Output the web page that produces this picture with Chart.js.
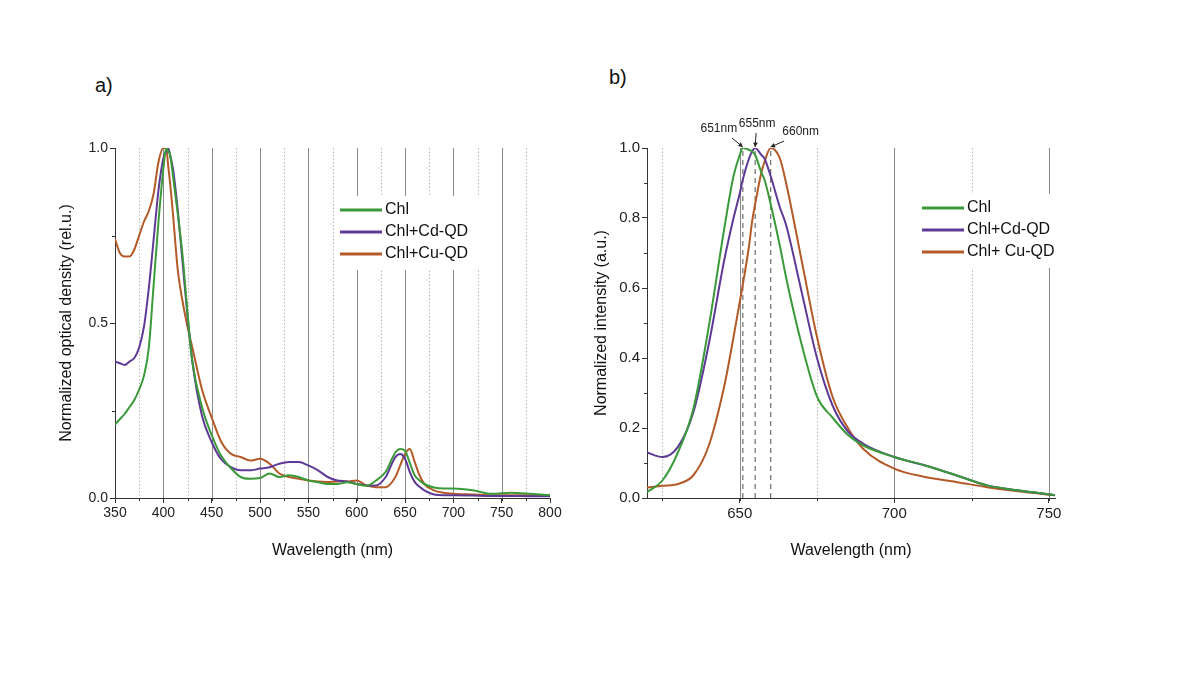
<!DOCTYPE html>
<html>
<head>
<meta charset="utf-8">
<script src="https://cdn.jsdelivr.net/npm/chart.js@4"></script>
<style>
body{margin:0;width:1200px;height:675px;background:#fff;position:relative;font-family:"Liberation Sans",Arial,sans-serif;overflow:hidden}
canvas{position:absolute}
.lbl{position:absolute;font-size:20px;color:#111}
</style>
</head>
<body>
<div class="lbl" style="left:95px;top:74px">a)</div>
<div class="lbl" style="left:609px;top:66px">b)</div>
<canvas id="ca" style="left:55px;top:100px" width="515" height="460"></canvas>
<canvas id="cb" style="left:590px;top:100px" width="490" height="460"></canvas>
<script>
// panel a: absorption
var absX = [350,355,360,365,370,375,380,385,390,395,400,403,405,407,410,415,420,425,430,440,450,460,470,480,490,500,510,520,530,540,550,560,570,580,590,600,610,620,630,640,645,650,655,660,665,670,680,690,700,720,740,760,780,800];
var absChl = [0.21,0.225,0.24,0.26,0.28,0.31,0.35,0.43,0.61,0.79,0.94,1.0,0.99,0.98,0.92,0.81,0.69,0.53,0.39,0.26,0.18,0.12,0.085,0.06,0.055,0.057,0.07,0.06,0.065,0.06,0.05,0.045,0.04,0.04,0.045,0.04,0.035,0.05,0.075,0.13,0.14,0.135,0.10,0.065,0.05,0.04,0.03,0.027,0.027,0.022,0.012,0.015,0.012,0.008];
var absCd = [0.39,0.385,0.38,0.39,0.40,0.43,0.49,0.6,0.74,0.88,0.97,0.99,1.0,0.98,0.94,0.82,0.67,0.52,0.39,0.235,0.16,0.11,0.088,0.079,0.079,0.084,0.088,0.098,0.103,0.103,0.093,0.079,0.06,0.05,0.047,0.04,0.036,0.036,0.06,0.117,0.126,0.112,0.074,0.046,0.032,0.022,0.01,0.008,0.008,0.007,0.006,0.006,0.005,0.005];
var absCu = [0.74,0.70,0.69,0.69,0.71,0.75,0.79,0.82,0.87,0.96,1.0,1.0,0.95,0.90,0.81,0.65,0.56,0.49,0.43,0.31,0.23,0.16,0.126,0.117,0.107,0.112,0.098,0.07,0.06,0.055,0.05,0.047,0.046,0.047,0.047,0.05,0.036,0.031,0.031,0.06,0.093,0.126,0.14,0.103,0.065,0.04,0.022,0.015,0.012,0.01,0.008,0.008,0.008,0.008];

// panel b: emission
var emX = [620,625,630,635,640,645,648,650,651,653,654,655,657,658,660,663,665,670,675,680,685,690,700,710,720,730,740,752];
var emChl = [0.017,0.05,0.13,0.255,0.49,0.77,0.92,0.98,1.0,0.995,0.99,0.98,0.93,0.91,0.84,0.72,0.63,0.44,0.29,0.23,0.18,0.15,0.117,0.093,0.065,0.036,0.022,0.008];
var emCd = [0.13,0.117,0.146,0.245,0.44,0.68,0.80,0.87,0.91,0.97,0.99,1.0,0.98,0.97,0.92,0.83,0.78,0.59,0.40,0.265,0.19,0.155,0.117,0.093,0.065,0.036,0.022,0.008];
var emCu = [0.03,0.035,0.04,0.065,0.15,0.32,0.46,0.56,0.61,0.72,0.79,0.84,0.93,0.96,1.0,0.97,0.90,0.68,0.46,0.29,0.2,0.14,0.084,0.06,0.046,0.031,0.019,0.008];

var names = ['Chl','Chl+Cd-QD','Chl+Cu-QD'];
var namesB = ['Chl','Chl+Cd-QD','Chl+ Cu-QD'];
var colors = ['#3a9a3a','#5e3a96','#b35a28'];
var peaks = [651,655,660];
var peakLabels = ['651nm','655nm','660nm'];
var ticksA = [350,400,450,500,550,600,650,700,750,800];
var ticksB = [650,700,750];

var FONT = '"Liberation Sans", Arial, sans-serif';

function pts(xs, ys){
	return xs.map(function(x, i){ return {x: x, y: ys[i]}; });
}

function ds(label, data, color){
	return {label: label, data: data, borderColor: color, borderWidth: 2, pointRadius: 0, cubicInterpolationMode: 'monotone', fill: false};
}

// grid lines, minor ticks, legend box, annotations
function decor(cfg){
	return {
		id: 'decor',
		beforeDatasetsDraw: function(chart){
			var c = chart.ctx, a = chart.chartArea, xs = chart.scales.x;
			c.save();
			for(var v = cfg.gridFrom; v < cfg.max; v += cfg.gridStep){
				var px = Math.round(xs.getPixelForValue(v)) + 0.5;
				var major = ((v - cfg.min) % (cfg.gridStep*2)) == 0;
				c.beginPath();
				c.lineWidth = 1;
				c.strokeStyle = major ? '#8a8a8a' : '#b8b8b8';
				c.setLineDash(major ? [] : [1.5,2]);
				c.moveTo(px, a.top); c.lineTo(px, a.bottom); c.stroke();
				c.setLineDash([]);
				c.strokeStyle = '#333';
				c.beginPath(); c.moveTo(px, a.bottom); c.lineTo(px, a.bottom+3); c.stroke();
			}
			var ys = chart.scales.y;
			for(var w = cfg.yMinor; w < 1; w += cfg.yMinor*2){
				var py = Math.round(ys.getPixelForValue(w)) + 0.5;
				c.beginPath(); c.moveTo(a.left-3, py); c.lineTo(a.left, py); c.stroke();
			}
			if(cfg.peaks){
				c.strokeStyle = '#777';
				c.lineWidth = 1.3;
				c.setLineDash([5,4]);
				cfg.peaks.forEach(function(p){
					var px = xs.getPixelForValue(p);
					c.beginPath(); c.moveTo(px, a.bottom); c.lineTo(px, ys.getPixelForValue(1)); c.stroke();
				});
			}
			// legend
			var L = cfg.legend;
			c.setLineDash([]);
			c.fillStyle = '#fff';
			c.fillRect(L.x-4, L.y-14, L.w, 3*L.dy+8);
			c.font = '16px ' + FONT;
			c.textBaseline = 'middle';
			L.names.forEach(function(n, i){
				var y = L.y + i*L.dy;
				c.strokeStyle = colors[i]; c.lineWidth = 3;
				c.beginPath(); c.moveTo(L.x, y); c.lineTo(L.x+42, y); c.stroke();
				c.fillStyle = '#111';
				c.fillText(n, L.x+45, y);
			});
			c.restore();
		},
		afterDatasetsDraw: function(chart){
			if(!cfg.peaks) return;
			var c = chart.ctx, xs = chart.scales.x, ys = chart.scales.y;
			var top = ys.getPixelForValue(1);
			c.save();
			c.font = '12px ' + FONT;
			c.fillStyle = '#222';
			c.strokeStyle = '#222';
			c.lineWidth = 1;
			var lx = [-24, 2, 30], ly = [-14, -19, -11];
			cfg.peaks.forEach(function(p, i){
				var px = xs.getPixelForValue(p);
				c.textAlign = 'center';
				c.fillText(peakLabels[i], px + lx[i], top + ly[i] - 2);
				var sx = px + lx[i]*0.45, sy = top + ly[i] + 4;
				c.beginPath(); c.moveTo(sx, sy); c.lineTo(px, top-1); c.stroke();
				var ang = Math.atan2(top-1-sy, px-sx);
				c.beginPath();
				c.moveTo(px, top-1);
				c.lineTo(px-5*Math.cos(ang-0.5), top-1-5*Math.sin(ang-0.5));
				c.lineTo(px-5*Math.cos(ang+0.5), top-1-5*Math.sin(ang+0.5));
				c.closePath(); c.fill();
			});
			c.restore();
		}
	};
}

function makeChart(id, o){
	return new Chart(document.getElementById(id), {
		type: 'line',
		data: {datasets: o.datasets},
		options: {
			responsive: false,
			animation: false,
			layout: {padding: {top: 48, right: o.right, left: 0, bottom: 0}},
			plugins: {legend: {display: false}, tooltip: {enabled: false}},
			scales: {
				x: {
					type: 'linear', min: o.min, max: o.max,
					afterBuildTicks: function(s){ s.ticks = o.xTicks.map(function(v){ return {value: v}; }); },
					grid: {drawOnChartArea: false, drawTicks: true, tickLength: 5, color: '#333'},
					border: {color: '#333', width: 1},
					ticks: {color: '#222', font: {size: o.fs, family: FONT}, padding: 2, autoSkip: false, maxRotation: 0},
					title: {display: true, text: 'Wavelength (nm)', color: '#111', font: {size: 16, family: FONT}, padding: 0},
					afterFit: function(s){ s.height = 62; }
				},
				y: {
					min: 0, max: 1,
					grid: {drawOnChartArea: false, drawTicks: true, tickLength: 5, color: '#333'},
					border: {color: '#333', width: 1},
					ticks: {stepSize: o.yStep, color: '#222', font: {size: o.fs, family: FONT}, padding: 2,
						callback: function(v){ return v.toFixed(1); }},
					title: {display: true, text: o.yTitle, color: '#111', font: {size: 16, family: FONT}, padding: 2},
					afterFit: function(s){ s.width = o.yw; }
				}
			}
		},
		plugins: [decor(o.decor)]
	});
}

makeChart('ca', {
	datasets: [ds(names[0], pts(absX, absChl), colors[0]), ds(names[1], pts(absX, absCd), colors[1]), ds(names[2], pts(absX, absCu), colors[2])],
	min: 350, max: 800, xTicks: ticksA, yStep: 0.5, yw: 60, right: 20, fs: 14,
	yTitle: 'Normalized optical density (rel.u.)',
	decor: {min: 350, max: 800, gridFrom: 375, gridStep: 25, yMinor: 0.25,
		legend: {x: 285, y: 110, dy: 22, names: names, w: 150}}
});

makeChart('cb', {
	datasets: [ds(namesB[0], pts(emX, emChl), colors[0]), ds(namesB[1], pts(emX, emCd), colors[1]), ds(namesB[2], pts(emX, emCu), colors[2])],
	min: 620, max: 752, xTicks: ticksB, yStep: 0.2, yw: 57, right: 25, fs: 15,
	yTitle: 'Normalized intensity (a.u.)',
	decor: {min: 600, max: 752, gridFrom: 625, gridStep: 25, yMinor: 0.1, peaks: peaks,
		legend: {x: 332, y: 108, dy: 22, names: namesB, w: 160}}
});
</script>
</body>
</html>
